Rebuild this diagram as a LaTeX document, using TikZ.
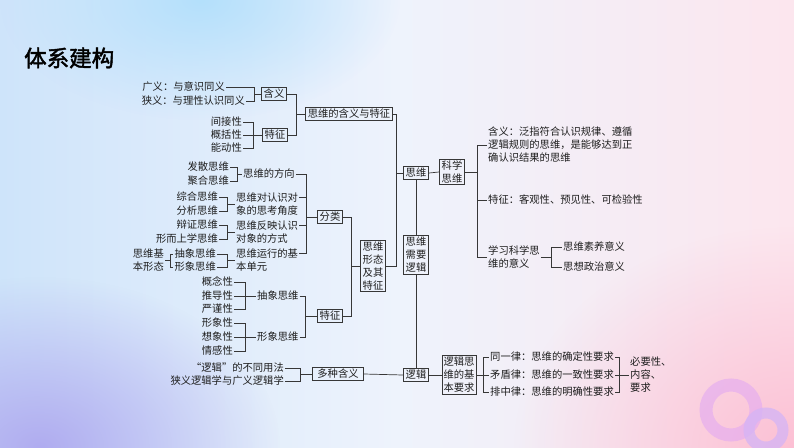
\documentclass[tikz,border=0pt]{standalone}
\usepackage{fontspec}
\setmainfont{Noto Sans CJK SC}
\newfontfamily\titlefont[FakeBold=2]{Noto Sans CJK SC}
\usetikzlibrary{positioning,fadings}
\definecolor{linec}{RGB}{55,55,55}
\definecolor{textc}{RGB}{30,30,30}
\definecolor{bgleft}{RGB}{206,228,250}
\definecolor{bgmid}{RGB}{238,243,252}
\definecolor{bgright}{RGB}{252,230,238}
\definecolor{lav}{RGB}{176,172,240}
\definecolor{sky}{RGB}{180,224,252}
\definecolor{rose}{RGB}{252,192,212}
\definecolor{ringa}{RGB}{228,172,240}
\definecolor{ringb}{RGB}{212,180,246}
\tikzfading[name=softblob, inner color=transparent!0, outer color=transparent!100]

\begin{document}
\begin{tikzpicture}[x=1pt,y=-1pt,
  every node/.style={font=\fontsize{10.3}{13}\selectfont, text=textc, inner sep=1pt},
  box/.style={draw=linec, line width=0.7pt, inner xsep=2.5pt, inner ysep=1.5pt},
  link/.style={draw=linec, line width=0.7pt}]
\useasboundingbox (0,0) rectangle (794,447);
% background
\shade[left color=bgleft, right color=bgright, middle color=bgmid] (0,0) rectangle (794,447);
\begin{scope}
\clip (0,0) rectangle (794,447);
\fill[sky, path fading=softblob] (200,0) ellipse (200 and 120);
\fill[lav, path fading=softblob] (40,447) ellipse (240 and 170);
\fill[rose, path fading=softblob] (794,447) ellipse (280 and 220);
\draw[ringa, line width=13pt, opacity=0.65] (731,410) circle (25);
\draw[ringb, line width=11pt, opacity=0.75] (766,430) circle (17);
\end{scope}

\node[font=\titlefont\fontsize{22.5}{26}\selectfont, text=black, anchor=west] (title) at (23,58) {体系建构};

% 含义与特征
\node[anchor=east] (gy) at (226,87) {广义：与意识同义};
\node[anchor=east] (xy) at (246,101) {狭义：与理性认识同义};
\node[box] (hy) at (274,94) {含义};
\node[anchor=east] (jjx) at (243,122) {间接性};
\node[anchor=east] (gkx) at (243,135) {概括性};
\node[anchor=east] (ndx) at (243,148) {能动性};
\node[box] (tz) at (275,135) {特征};
\node[box] (hytz) at (349,114) {思维的含义与特征};

% 分类
\node[anchor=east] (fssw) at (230,167) {发散思维};
\node[anchor=east] (jhsw) at (230,181) {聚合思维};
\node[anchor=west] (fx) at (242,174) {思维的方向};
\node[anchor=east] (zhsw) at (219,197) {综合思维};
\node[anchor=east] (fxsw) at (219,211) {分析思维};
\node[anchor=west, align=left] (jd) at (235,204) {思维对认识对\\象的思考角度};
\node[anchor=east] (bzsw) at (219,225) {辩证思维};
\node[anchor=east] (xssw) at (219,239) {形而上学思维};
\node[anchor=west, align=left] (fy) at (235,232) {思维反映认识\\对象的方式};
\node[anchor=east, align=left] (jbxt) at (165,260) {思维基\\本形态};
\node[anchor=east] (cxsw) at (217,254) {抽象思维};
\node[anchor=east] (xxsw) at (217,267) {形象思维};
\node[anchor=west, align=left] (yx) at (235,260) {思维运行的基\\本单元};
\node[box] (fl) at (330,217) {分类};

% 特征
\node[anchor=east] (gnx) at (234,282) {概念性};
\node[anchor=east] (tdx) at (234,296) {推导性};
\node[anchor=east] (yjx) at (234,309) {严谨性};
\node[anchor=east] (xxx) at (234,323) {形象性};
\node[anchor=east] (xxx2) at (234,337) {想象性};
\node[anchor=east] (qgx) at (234,351) {情感性};
\node[anchor=west] (cxsw2) at (256,296) {抽象思维};
\node[anchor=west] (xxsw2) at (256,337) {形象思维};
\node[box] (tz2) at (330,316) {特征};
\node[box, align=center] (xttz) at (373,266) {思维\\形态\\及其\\特征};

% 多种含义
\node[anchor=east] (yf) at (285,368) {“逻辑”的不同用法};
\node[anchor=east] (lj) at (285,381) {狭义逻辑学与广义逻辑学};
\node[box, inner xsep=5pt] (dz) at (338,374) {多种含义};

% 中间
\node[box] (sw) at (416,173) {思维};
\node[box, align=center] (xylj) at (416,255) {思维\\需要\\逻辑};
\node[box] (luoji) at (416,375) {逻辑};

% 科学思维
\node[box, align=center] (kxsw) at (452,172) {科学\\思维};
\node[anchor=west, align=left] (khy) at (487,145) {含义：泛指符合认识规律、遵循\\逻辑规则的思维，是能够达到正\\确认识结果的思维};
\node[anchor=west] (ktz) at (487,200) {特征：客观性、预见性、可检验性};
\node[anchor=west, align=left] (kyy) at (487,257) {学习科学思\\维的意义};
\node[anchor=west] (sy) at (562,247) {思维素养意义};
\node[anchor=west] (zz) at (562,267) {思想政治意义};

% 逻辑思维的基本要求
\node[box, inner xsep=1.5pt, align=center] (jbyq) at (459,375) {逻辑思\\维的基\\本要求};
\node[anchor=west] (tyl) at (489,357) {同一律：思维的确定性要求};
\node[anchor=west] (mdl) at (489,375) {矛盾律：思维的一致性要求};
\node[anchor=west] (pzl) at (489,392) {排中律：思维的明确性要求};
\node[anchor=west, align=left] (byx) at (629,375) {必要性、\\内容、\\要求};

% brackets
\coordinate (s1) at (254,94);
\coordinate (s2) at (253,135);
\coordinate (s3) at (296,114);
\coordinate (s4) at (396,173);
\coordinate (s5) at (237,174);
\coordinate (s6) at (227,204);
\coordinate (s7) at (227,232);
\coordinate (s8) at (227,260);
\coordinate (s9) at (170,260);
\coordinate (s10) at (306,217);
\coordinate (s11) at (351,266);
\coordinate (s12) at (245,296);
\coordinate (s13) at (245,337);
\coordinate (s14) at (305,316);
\coordinate (s15) at (300,374);
\coordinate (s16) at (477,172);
\coordinate (s17) at (551,257);
\coordinate (s18) at (483,375);
\coordinate (s19) at (619,375);

\draw[link] (gy.east) -| (s1) -- (hy.west);
\draw[link] (xy.east) -| (s1);
\draw[link] (jjx.east) -| (s2) -- (tz.west);
\draw[link] (gkx.east) -- (s2);
\draw[link] (ndx.east) -| (s2);
\draw[link] (hy.east) -| (s3) -- (hytz.west);
\draw[link] (tz.east) -| (s3);
\draw[link] (hytz.east) -| (s4) -- (sw.west);
\draw[link] (xttz.east) -| (s4);

\draw[link] (fssw.east) -| (s5) -- (fx.west);
\draw[link] (jhsw.east) -| (s5);
\draw[link] (zhsw.east) -| (s6) -- (jd.west);
\draw[link] (fxsw.east) -| (s6);
\draw[link] (bzsw.east) -| (s7) -- (fy.west);
\draw[link] (xssw.east) -| (s7);
\draw[link] (cxsw.east) -| (s8) -- (yx.west);
\draw[link] (xxsw.east) -| (s8);
\draw[link] (jbxt.east) -- (s9) |- (cxsw.west);
\draw[link] (s9) |- (xxsw.west);
\draw[link] (fx.east) -| (s10) -- (fl.west);
\draw[link] ([yshift=6.5pt]jd.east) -| (s10);
\draw[link] ([yshift=6.5pt]fy.east) -| (s10);
\draw[link] ([yshift=6.5pt]yx.east) -| (s10);
\draw[link] (fl.east) -| (s11) -- (xttz.west);
\draw[link] (tz2.east) -| (s11);

\draw[link] (gnx.east) -| (s12);
\draw[link] (tdx.east) -- (cxsw2.west);
\draw[link] (yjx.east) -| (s12);
\draw[link] (xxx.east) -| (s13);
\draw[link] (xxx2.east) -- (xxsw2.west);
\draw[link] (qgx.east) -| (s13);
\draw[link] (cxsw2.east) -| (s14) -- (tz2.west);
\draw[link] (xxsw2.east) -| (s14);

\draw[link] (yf.east) -| (s15) -- (dz.west);
\draw[link] (lj.east) -| (s15);
\draw[link] (dz.east) -- (luoji.west);

\draw[link] (sw.south) -- (xylj.north);
\draw[link] (xylj.south) -- (luoji.north);
\draw[link] (sw.east) -- (kxsw.west);

\draw[link] (kxsw.east) -- (s16);
\draw[link] (khy.west) -| (s16);
\draw[link] (ktz.west) -| (s16);
\draw[link] (kyy.west) -| (s16);
\draw[link] (kyy.east) -- (s17) |- (sy.west);
\draw[link] (s17) |- (zz.west);

\draw[link] (luoji.east) -- (jbyq.west);
\draw[link] (jbyq.east) -- (mdl.west);
\draw[link] (s18) |- (tyl.west);
\draw[link] (s18) |- (pzl.west);
\draw[link] (tyl.east) -| (s19);
\draw[link] (pzl.east) -| (s19);
\draw[link] (mdl.east) -- (byx.west);
\end{tikzpicture}
\end{document}
